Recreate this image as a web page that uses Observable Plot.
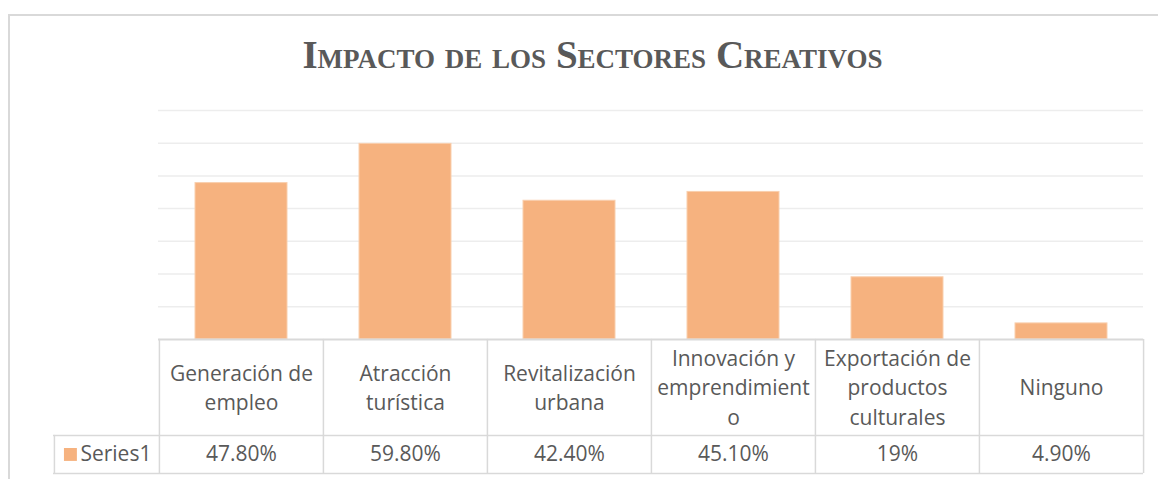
<!DOCTYPE html>
<html>
<head>
<meta charset="utf-8">
<script src="https://cdn.jsdelivr.net/npm/d3@7"></script>
<script src="https://cdn.jsdelivr.net/npm/@observablehq/plot@0.6"></script>
<style>
  html, body { margin: 0; padding: 0; background: #fff; }
  #wrap { position: relative; width: 1158px; height: 479px; overflow: hidden; }
  #frame { position: absolute; left: 8px; top: 14px; width: 1200px; height: 520px;
           border-left: 2px solid #d9d9d9; border-top: 2px solid #d9d9d9; box-sizing: border-box; }
  #title { position: absolute; left: 0; width: 1185px; top: 32px; text-align: center;
           font-family: "Liberation Serif", serif; font-weight: bold; font-variant: small-caps;
           font-size: 39px; color: #595959; letter-spacing: 0; }
  #chart { position: absolute; left: 0; top: 0; }
</style>
</head>
<body>
<div id="wrap">
  <div id="frame"></div>
  <div id="chart"></div>
  <div id="title">Impacto de los Sectores Creativos</div>
</div>
<script>
// ---- data ----
const categories = ["Generación de empleo", "Atracción turística", "Revitalización urbana",
                    "Innovación y emprendimiento", "Exportación de productos culturales", "Ninguno"];
const headerLabels = ["Generación de\nempleo", "Atracción\nturística", "Revitalización\nurbana",
                      "Innovación y\nemprendimient\no", "Exportación de\nproductos\nculturales", "Ninguno"];
const values = [47.8, 59.8, 42.4, 45.1, 19, 4.9];
const valueLabels = ["47.80%", "59.80%", "42.40%", "45.10%", "19%", "4.90%"];
const gridTicks = [10, 20, 30, 40, 50, 60, 70];
const seriesName = "Series1";

// ---- layout ----
const W = 1158, H = 479, mL = 158, mR = 15, mT = 110, mB = 6;
const step = (W - mL - mR) / categories.length;
const rowSplit = -29.35, tableBottom = -41;
const headerMid = -14.2, valueMid = (rowSplit + tableBottom) / 2;
const legendW = 105;
const border = "#d9d9d9", textColor = "#595959", barColor = "#F6B27F";
const font = "'Open Sans', sans-serif";
const fs = 21;

const data = categories.map((c, i) => ({cat: c, value: values[i], header: headerLabels[i], label: valueLabels[i]}));

const chart = Plot.plot({
  width: W, height: H, marginLeft: mL, marginRight: mR, marginTop: mT, marginBottom: mB,
  style: {background: "transparent", fontFamily: font},
  x: {domain: categories, paddingInner: 0.44, paddingOuter: 0.22, axis: null},
  y: {domain: [tableBottom, 70], axis: null},
  marks: [
    Plot.ruleY(gridTicks, {stroke: "#ededed", strokeWidth: 1.5}),
    Plot.barY(data, {x: "cat", y: "value", fill: barColor, stroke: "#f9cfae", strokeWidth: 1}),
    Plot.ruleY([0], {stroke: border, strokeWidth: 2}),
    Plot.ruleY([rowSplit, tableBottom], {stroke: border, strokeWidth: 1.5, insetLeft: -legendW}),
    Plot.ruleX(categories, {x: d => d, dx: -step / 2, y1: 0, y2: tableBottom, stroke: border, strokeWidth: 1.5}),
    Plot.ruleX([categories[categories.length - 1]], {x: d => d, dx: step / 2, y1: 0, y2: tableBottom, stroke: border, strokeWidth: 1.5}),
    Plot.ruleX([categories[0]], {x: d => d, dx: -step / 2 - legendW, y1: rowSplit, y2: tableBottom, stroke: border, strokeWidth: 1.5}),
    Plot.text(data, {x: "cat", y: headerMid, text: "header", fontSize: fs, lineHeight: 1.4, fill: textColor}),
    Plot.text(data, {x: "cat", y: valueMid, text: "label", fontSize: fs, fill: textColor}),
    Plot.dot([seriesName], {x: () => categories[0], y: valueMid, dx: -step / 2 - 89, symbol: "square", r: 7.3, fill: barColor}),
    Plot.text([seriesName], {x: () => categories[0], y: valueMid, dx: -step / 2 - 79, text: d => d, textAnchor: "start", fontSize: fs, fill: textColor})
  ]
});
document.getElementById("chart").appendChild(chart);
</script>
</body>
</html>
